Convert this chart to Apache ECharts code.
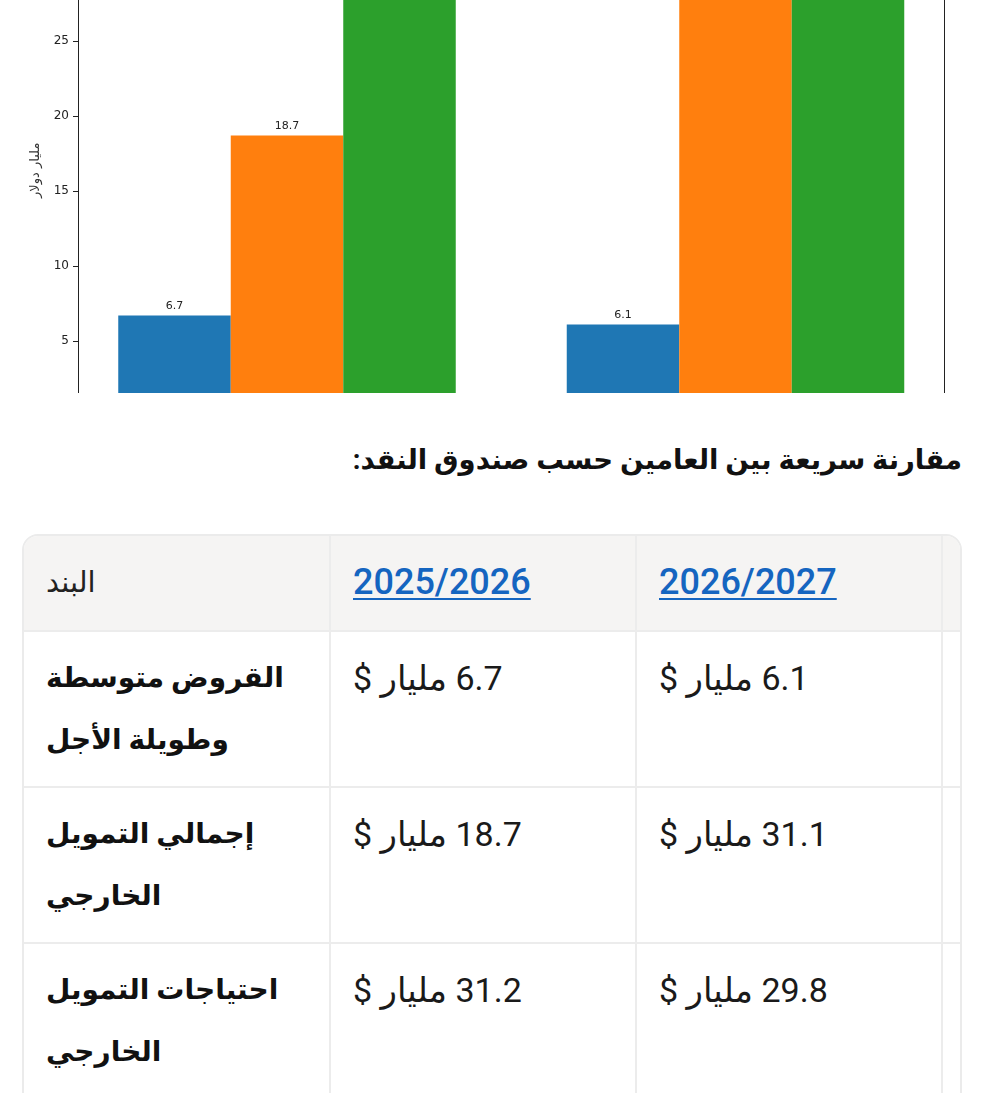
<!DOCTYPE html>
<html lang="ar">
<head>
<meta charset="utf-8">
<title>مقارنة سريعة بين العامين حسب صندوق النقد</title>
<script src="https://cdn.jsdelivr.net/npm/echarts@6/dist/echarts.min.js"></script>
<style>
  html, body { margin: 0; padding: 0; background: #fff; width: 987px; height: 1093px; overflow: hidden; }
  body { font-family: Roboto, "DejaVu Sans", sans-serif; color: #1a1a1a; position: relative; }
  #chartWrap { position: absolute; top: 0; left: 0; width: 987px; height: 393px; overflow: hidden; }
  #chart { position: absolute; top: -149px; left: 0; width: 987px; height: 640px; }
  h3 { position: absolute; top: 436px; right: 25px; margin: 0; direction: rtl;
       font-size: 27.5px; font-weight: bold; line-height: 48px; color: #111; }
  .tableBox { position: absolute; top: 534px; left: 22px; width: 936px; height: 640px;
              border: 2px solid #ebebeb; border-radius: 16px; overflow: hidden; }
  table { border-collapse: collapse; table-layout: fixed; width: 960px; direction: ltr; }
  th, td { text-align: left; vertical-align: top; padding: 15px 20px 15px 22px; line-height: 62px;
           border-right: 2px solid #ececec; border-bottom: 2px solid #ececec; direction: rtl;
           white-space: nowrap; overflow: hidden; }
  thead th { background: #f5f4f3; font-weight: normal; font-size: 29px; color: #222; }
  thead th a { color: #1565c0; font-weight: 500; font-size: 36px; text-decoration: underline;
               text-underline-offset: 4px; text-decoration-thickness: 2px; }
  td { font-size: 34px; color: #1a1a1a; }
  td.item { font-weight: bold; font-size: 28px; color: #111; }
</style>
</head>
<body>
<div id="chartWrap"><div id="chart"></div></div>

<h3>مقارنة سريعة بين العامين حسب صندوق النقد:</h3>

<div class="tableBox">
  <table id="tbl">
    <colgroup><col style="width:306px"><col style="width:306px"><col style="width:306px"><col style="width:42px"></colgroup>
    <thead><tr id="headRow"></tr></thead>
    <tbody id="body"></tbody>
  </table>
</div>

<script>
// data
var years = ['2025/2026', '2026/2027'];
var itemHeader = 'البند';
var itemNames = ['القروض متوسطة وطويلة الأجل', 'إجمالي التمويل الخارجي', 'احتياجات التمويل الخارجي'];
var itemLines = [['القروض متوسطة', 'وطويلة الأجل'], ['إجمالي التمويل', 'الخارجي'], ['احتياجات التمويل', 'الخارجي']];
var loans = [6.7, 6.1];
var totalFinancing = [18.7, 31.1];
var financingNeeds = [31.2, 29.8];
var unitLabel = 'مليار دولار';
var valueSuffix = 'مليار $';

var colors = ['#1f77b4', '#ff7f0e', '#2ca02c'];
var allSeries = [loans, totalFinancing, financingNeeds];

// table
var head = document.getElementById('headRow');
var h = '<th>' + itemHeader + '</th>';
years.forEach(function (y) { h += '<th><a href="#">' + y + '</a></th>'; });
h += '<th></th>';
head.innerHTML = h;

var body = document.getElementById('body');
var rows = '';
allSeries.forEach(function (vals, i) {
    rows += '<tr><td class="item">' + itemLines[i].join('<br>') + '</td>';
    vals.forEach(function (v) { rows += '<td>' + v.toFixed(1) + ' ' + valueSuffix + '</td>'; });
    rows += '<td></td></tr>';
});
body.innerHTML = rows;

// chart
var myChart = echarts.init(document.getElementById('chart'));
var yMax = 32.76;
myChart.setOption({
    animation: false,
    grid: { left: 62.75, right: 27.25, top: 73.6, height: 491.4 },
    xAxis: {
        type: 'category',
        data: years,
        axisLine: { lineStyle: { color: '#222' } },
        axisTick: { show: false },
        axisLabel: { color: '#222', fontSize: 11 }
    },
    yAxis: [{
        type: 'value',
        position: 'left',
        offset: -15.25,
        min: 0,
        max: yMax,
        interval: 5,
        name: unitLabel,
        nameLocation: 'middle',
        nameGap: 36,
        nameTextStyle: { color: '#333', fontSize: 13, fontFamily: 'DejaVu Sans' },
        axisLine: { show: true, lineStyle: { color: '#222', width: 1 } },
        axisTick: { show: true, length: 5, lineStyle: { color: '#222' } },
        axisLabel: { color: '#222', fontSize: 12, margin: 9, fontFamily: 'DejaVu Sans', showMaxLabel: false },
        splitLine: { show: false }
    }, {
        type: 'value',
        position: 'right',
        offset: -15.75,
        min: 0,
        max: yMax,
        interval: 5,
        axisLine: { show: true, lineStyle: { color: '#222', width: 1 } },
        axisTick: { show: false },
        axisLabel: { show: false },
        splitLine: { show: false }
    }],
    series: allSeries.map(function (vals, i) {
        return {
            name: itemNames[i],
            type: 'bar',
            data: vals,
            barWidth: 112.5,
            barGap: '0%',
            itemStyle: { color: colors[i] },
            label: {
                show: true,
                position: 'top',
                distance: 4,
                color: '#222',
                fontSize: 11,
                fontFamily: 'DejaVu Sans'
            }
        };
    })
});
</script>
</body>
</html>
